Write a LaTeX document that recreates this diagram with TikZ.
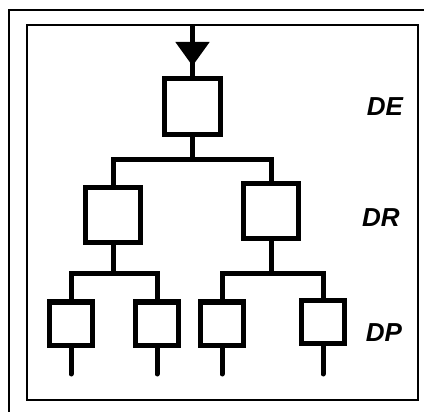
\documentclass[tikz,border=0pt]{standalone}
\usepackage{fontspec}
\setmainfont{Liberation Sans}
\usetikzlibrary{arrows.meta,decorations.markings}

\begin{document}
\begin{tikzpicture}[x=1pt, y=-1pt,
    unit/.style={draw, line width=5pt, minimum width=#1, minimum height=#1, inner sep=0pt},
    link/.style={line width=5pt},
    tag/.style={font=\fontsize{26}{30}\selectfont\bfseries\itshape},
    feed/.style={postaction={decorate, decoration={markings,
        mark=at position 41pt with {\arrow{Triangle[length=24pt, width=33pt]}}}}}]
    \useasboundingbox (0,0) rectangle (424,412);
    % frames
    \draw[line width=2pt] (9,413) -- (9,10) -- (425,10);
    \draw[line width=2pt] (27,25) rectangle (418,400);

    % boxes
    \node[unit=56pt] (de) at (192.5,106.5) {};
    \node[unit=55pt] (drl) at (113,215.5) {};
    \node[unit=55pt] (drr) at (271,211) {};
    \node[unit=43pt] (dp1) at (71,323.5) {};
    \node[unit=43pt] (dp2) at (157,323.5) {};
    \node[unit=43pt] (dp3) at (222,323.5) {};
    \node[unit=43pt] (dp4) at (323,322) {};

    % branch points and ends
    \coordinate (in) at (192.5,25);
    \coordinate (j0) at (192.5,160);
    \coordinate (jl) at (113,274);
    \coordinate (jr) at (271,274);
    \coordinate (e1) at (71,374);
    \coordinate (e2) at (157,374);
    \coordinate (e3) at (222,374);
    \coordinate (e4) at (323,374);

    \draw[link, feed] (in) -- (de);
    \draw[link] (de) -- (j0);
    \draw[link] (j0) -| (drl);
    \draw[link] (j0) -| (drr);
    \draw[link] (drl) -- (jl);
    \draw[link] (jl) -| (dp1);
    \draw[link] (jl) -| (dp2);
    \draw[link] (drr) -- (jr);
    \draw[link] (jr) -| (dp3);
    \draw[link] (jr) -| (dp4);
    \foreach \i in {1,...,4}
        \draw[link, line cap=round] (dp\i) -- (e\i);

    % level labels
    \node[tag] (lde) at (385,107) {DE};
    \node[tag] (ldr) at (381,218) {DR};
    \node[tag] (ldp) at (384,333) {DP};
\end{tikzpicture}
\end{document}
